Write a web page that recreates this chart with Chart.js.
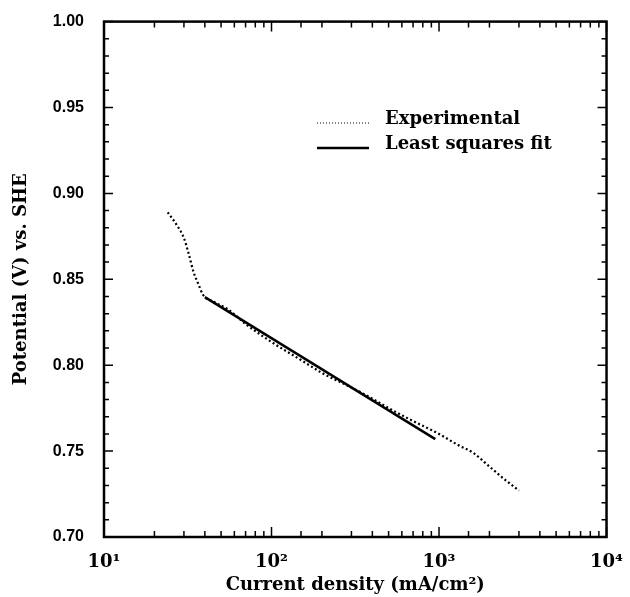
<!DOCTYPE html>
<html>
<head>
<meta charset="utf-8">
<script src="https://cdn.jsdelivr.net/npm/chart.js@4"></script>
<style>
  html, body { margin: 0; padding: 0; background: #fff; }
  #wrap { width: 630px; height: 597px; }
</style>
</head>
<body>
<div id="wrap"><canvas id="myChart" width="630" height="597"></canvas></div>
<script>
// Experimental polarisation curve (current density in mA/cm2, potential in V vs SHE)
const expCurrent = [24, 27, 30, 32, 34.3, 36.7, 39, 45, 55, 70, 100, 150, 200, 300, 400, 500, 700, 1000, 1300, 1600, 2000, 2500, 3000];
const expPotential = [0.889, 0.882, 0.874, 0.865, 0.854, 0.847, 0.841, 0.837, 0.8325, 0.824, 0.8135, 0.803, 0.7955, 0.787, 0.7805, 0.775, 0.7675, 0.760, 0.7535, 0.749, 0.741, 0.733, 0.727];

// Least squares fit line end points
const fitCurrent = [40, 950];
const fitPotential = [0.8396, 0.757];

// Axis labels
const xTickLabels = { 10: '10¹', 100: '10²', 1000: '10³', 10000: '10⁴' };
const legendLabels = ['Experimental', 'Least squares fit'];

const serif = '"DejaVu Serif", serif';

const toPoints = (xs, ys) => xs.map((x, i) => ({ x: x, y: ys[i] }));

// draws the frame, inward ticks on all four sides and the legend
const frameTicks = {
    id: 'frameTicks',
    afterDraw(chart) {
        const { ctx, chartArea: a, scales } = chart;
        ctx.save();
        ctx.strokeStyle = '#000';
        ctx.lineWidth = 2.5;
        ctx.strokeRect(a.left, a.top, a.right - a.left, a.bottom - a.top);
        ctx.lineWidth = 1.5;
        ctx.beginPath();
        scales.x.ticks.forEach(t => {
            const px = scales.x.getPixelForValue(t.value);
            const major = Math.abs(Math.log10(t.value) % 1) < 1e-6;
            const len = major ? 10 : 6;
            ctx.moveTo(px, a.bottom); ctx.lineTo(px, a.bottom - len);
            ctx.moveTo(px, a.top); ctx.lineTo(px, a.top + len);
        });
        scales.y.ticks.forEach(t => {
            const py = scales.y.getPixelForValue(t.value);
            const major = Math.abs(Math.round(t.value * 100) % 5) === 0;
            const len = major ? 9 : 5;
            ctx.moveTo(a.left, py); ctx.lineTo(a.left + len, py);
            ctx.moveTo(a.right, py); ctx.lineTo(a.right - len, py);
        });
        ctx.stroke();

        // legend in the upper right of the plot
        const lx0 = 317, lx1 = 369, tx = 385;
        const rows = [124, 149];
        ctx.font = 'bold 18px ' + serif;
        ctx.fillStyle = '#000';
        ctx.textBaseline = 'alphabetic';
        chart.data.datasets.forEach((ds, i) => {
            const y = rows[i];
            ctx.beginPath();
            ctx.lineWidth = i === 0 ? 1.2 : 2.5;
            ctx.setLineDash(i === 0 ? [1, 2] : []);
            ctx.moveTo(lx0, y - 1); ctx.lineTo(lx1, y - 1);
            ctx.stroke();
            ctx.setLineDash([]);
            ctx.fillText(ds.label, tx, y);
        });
        ctx.restore();
    }
};

const ctx = document.getElementById('myChart').getContext('2d');
const myChart = new Chart(ctx, {
    type: 'line',
    data: {
        datasets: [{
            label: legendLabels[0],
            data: toPoints(expCurrent, expPotential),
            borderColor: '#000',
            borderWidth: 2.2,
            borderDash: [2, 2.5],
            pointRadius: 0,
            cubicInterpolationMode: 'monotone',
            fill: false
        }, {
            label: legendLabels[1],
            data: toPoints(fitCurrent, fitPotential),
            borderColor: '#000',
            borderWidth: 2.5,
            pointRadius: 0,
            fill: false
        }]
    },
    options: {
        responsive: false,
        animation: false,
        layout: { padding: { top: 19, right: 16, left: 0, bottom: 0 } },
        plugins: {
            legend: { display: false },
            tooltip: { enabled: false }
        },
        scales: {
            x: {
                type: 'logarithmic',
                min: 10,
                max: 10000,
                afterFit: s => { s.height = 60; },
                grid: { display: false },
                border: { display: false },
                ticks: {
                    autoSkip: false,
                    maxRotation: 0,
                    padding: 7,
                    color: '#000',
                    font: { family: serif, size: 18, weight: 'bold' },
                    callback: v => xTickLabels[v] || ''
                },
                title: {
                    display: true,
                    text: 'Current density (mA/cm²)',
                    color: '#000',
                    font: { family: serif, size: 18, weight: 'bold' },
                    padding: { top: 0, bottom: 1 }
                }
            },
            y: {
                min: 0.7,
                max: 1.0,
                afterFit: s => { s.width = 104; },
                grid: { display: false },
                border: { display: false },
                ticks: {
                    stepSize: 0.01,
                    autoSkip: false,
                    padding: 12,
                    color: '#000',
                    font: { family: '"Liberation Sans", Arial, sans-serif', size: 16, weight: 'bold' },
                    callback: v => (Math.round(v * 100) % 5 === 0 ? v.toFixed(2) : '')
                },
                title: {
                    display: true,
                    text: 'Potential (V) vs. SHE',
                    color: '#000',
                    font: { family: serif, size: 18, weight: 'bold' },
                    padding: { top: 11, bottom: 0 }
                }
            }
        }
    },
    plugins: [frameTicks]
});
</script>
</body>
</html>
